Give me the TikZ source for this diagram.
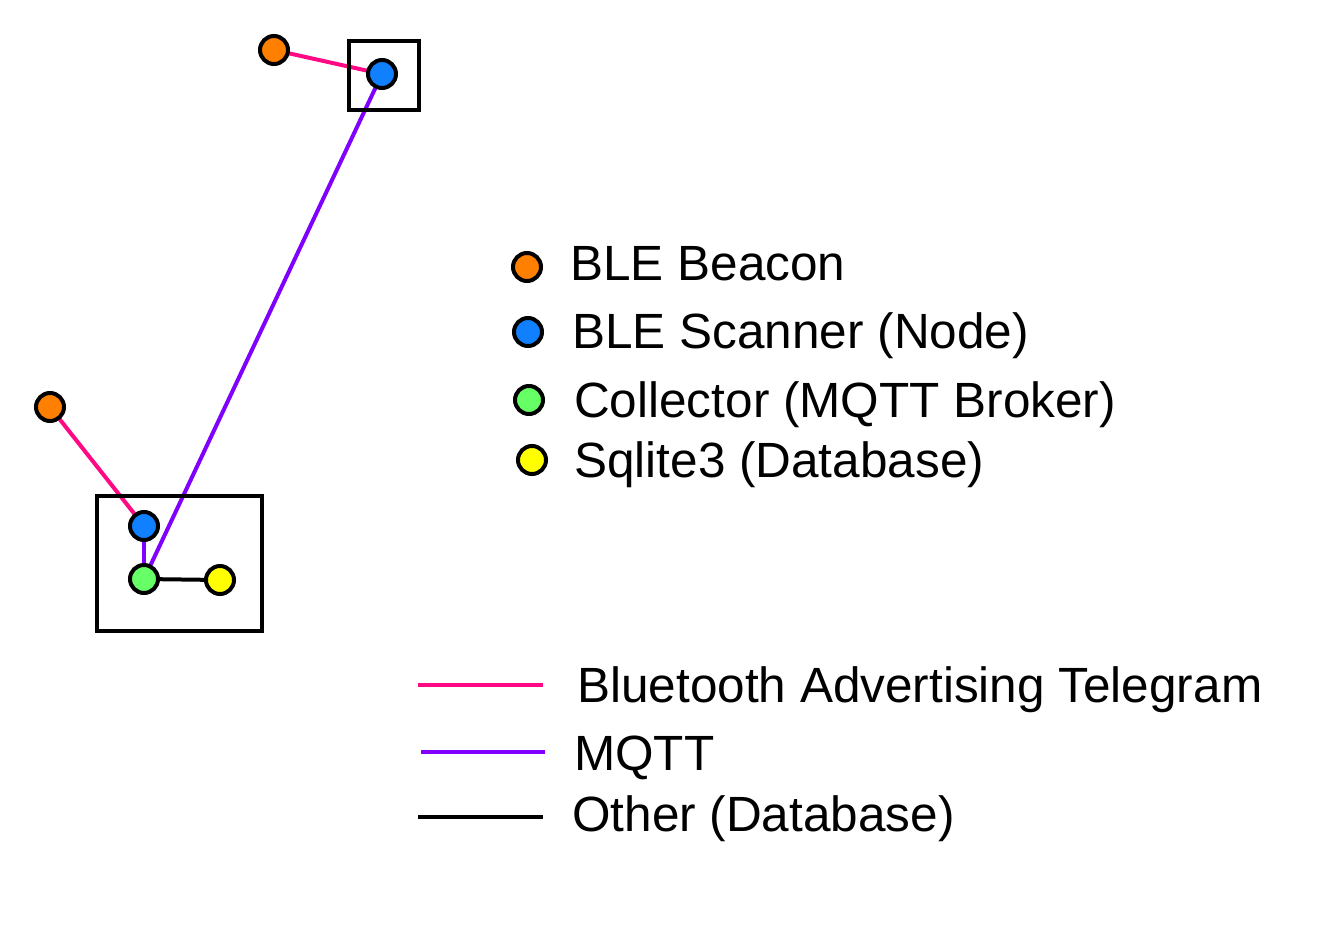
\documentclass[tikz,border=0pt]{standalone}
\usepackage{fontspec}
\setmainfont{Liberation Sans}
\usetikzlibrary{backgrounds}
\definecolor{beacon}{HTML}{FF8000}
\definecolor{scanner}{HTML}{1080FF}
\definecolor{collector}{HTML}{66FF66}
\definecolor{dbyellow}{HTML}{FFFF00}
\definecolor{bleline}{HTML}{FF0A84}
\definecolor{mqttline}{HTML}{8000FF}
\tikzset{
  dot/.style={circle, draw=black, line width=4pt, minimum size=28pt, inner sep=0pt},
  frame/.style={draw=black, line width=4pt},
  ble/.style={draw=bleline, line width=4pt},
  mqtt/.style={draw=mqttline, line width=4pt},
  other/.style={draw=black, line width=4pt},
  lbl/.style={anchor=base west, inner sep=0pt, font=\fontsize{49.5}{59}\selectfont},
}
\begin{document}
\begin{tikzpicture}[x=1pt,y=-1pt]
\useasboundingbox (0,0) rectangle (1344,924);
% frames
\node[frame, minimum width=70pt, minimum height=69pt, inner sep=0pt] (topbox) at (384,75.5) {};
\node[frame, minimum width=165pt, minimum height=135pt, inner sep=0pt] (botbox) at (179.5,563.5) {};
% devices
\node[dot, fill=beacon] (b1) at (274,50) {};
\node[dot, fill=scanner] (s1) at (382,74) {};
\node[dot, fill=beacon] (b2) at (50,407) {};
\node[dot, fill=scanner] (s2) at (144,526) {};
\node[dot, fill=collector] (col) at (144,579) {};
\node[dot, fill=dbyellow] (db) at (220,580) {};
\begin{pgfonlayer}{background}
\draw[ble] (b1.center) -- (s1.center);
\draw[ble] (b2.center) -- (s2.center);
\draw[mqtt] (s1.center) -- (col.center);
\draw[mqtt] (s2.center) -- (col.center);
\draw[other] (col.center) -- (db.center);
\end{pgfonlayer}
% legend markers
\node[dot, fill=beacon] (lb) at (527,267) {};
\node[dot, fill=scanner] (ls) at (528,332) {};
\node[dot, fill=collector] (lc) at (529,400) {};
\node[dot, fill=dbyellow] (ld) at (532,460) {};
\node[lbl] (tb) at (570,280) {BLE Beacon};
\node[lbl] (ts) at (572,348) {BLE Scanner (Node)};
\node[lbl] (tc) at (574,417) {Collector (MQTT Broker)};
\node[lbl] (td) at (574,477) {Sqlite3 (Database)};
% legend lines
\coordinate (l1a) at (418,685); \coordinate (l1b) at (543,685);
\coordinate (l2a) at (421,752); \coordinate (l2b) at (545,752);
\coordinate (l3a) at (418,817); \coordinate (l3b) at (543,817);
\draw[ble] (l1a) -- (l1b);
\draw[mqtt] (l2a) -- (l2b);
\draw[other] (l3a) -- (l3b);
\node[lbl] (t1) at (577,702) {Bluetooth Advertising Telegram};
\node[lbl] (t2) at (574,770) {MQTT};
\node[lbl] (t3) at (572,831) {Other (Database)};
\end{tikzpicture}
\end{document}
